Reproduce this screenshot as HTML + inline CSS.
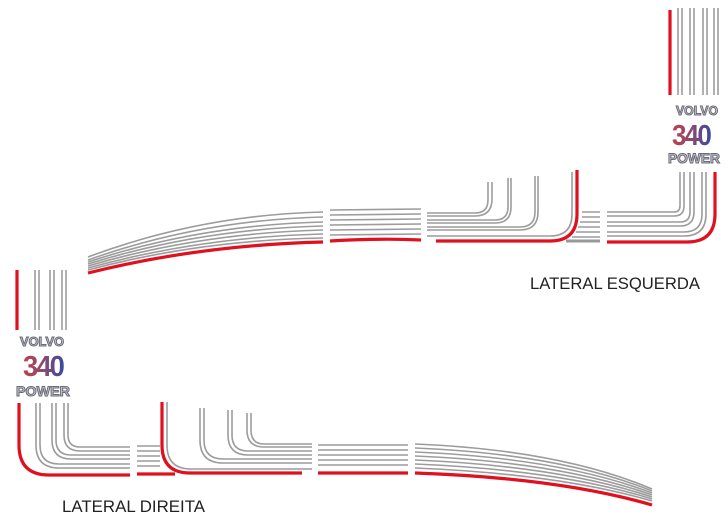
<!DOCTYPE html>
<html><head><meta charset="utf-8"><style>
html,body{margin:0;padding:0;background:#fff;width:728px;height:523px;overflow:hidden}
svg{display:block}
.g{fill:none;stroke:#9c9c9c;stroke-width:1.6}
.r{fill:none;stroke:#e0101e;stroke-width:3.2}
.lg{font-family:"Liberation Sans",sans-serif;font-weight:bold;fill:#c8c8d0;stroke:#6a6a78;stroke-width:1}
.num{font-family:"Liberation Sans",sans-serif;font-weight:bold;letter-spacing:-2px}
.lab{font-family:"Liberation Sans",sans-serif;font-size:16.5px;fill:#222}
</style></head><body>
<svg width="728" height="523" viewBox="0 0 728 523" xmlns="http://www.w3.org/2000/svg">
<defs>
<linearGradient id="n" x1="0" x2="1"><stop offset="0" stop-color="#c0404c"/><stop offset="0.5" stop-color="#8a4a70"/><stop offset="1" stop-color="#3a4aa0"/></linearGradient>
</defs>

<line class="r" x1="670" y1="10" x2="670" y2="95"/>
<g class="g">
<line x1="678" y1="8" x2="678" y2="95"/><line x1="682" y1="8" x2="682" y2="95"/>
<line x1="690" y1="8" x2="690" y2="95"/><line x1="694" y1="8" x2="694" y2="95"/>
<line x1="703" y1="8" x2="703" y2="95"/><line x1="707" y1="8" x2="707" y2="95"/>
<line x1="714" y1="8" x2="714" y2="95"/><line x1="718" y1="8" x2="718" y2="95"/>
</g>
<text class="lg" x="697" y="115" font-size="13" text-anchor="middle" textLength="42" lengthAdjust="spacingAndGlyphs">VOLVO</text>
<text class="num" x="691" y="145" font-size="29" text-anchor="middle" fill="url(#n)" textLength="38" lengthAdjust="spacingAndGlyphs">340</text>
<text class="lg" x="694" y="163" font-size="14" text-anchor="middle" textLength="52" lengthAdjust="spacingAndGlyphs">POWER</text>

<path class="r" d="M607,242 H687 Q715,242 715,214 V172"/>
<g class="g">
<path d="M607,236 H684 Q706,236 706,214 V172"/>
<path d="M607,232 H684 Q702,232 702,214 V172"/>
<path d="M607,226 H680 Q694,226 694,212 V172"/>
<path d="M607,222 H680 Q690,222 690,212 V172"/>
<path d="M607,216 H674 Q684,216 684,206 V172"/>
<path d="M607,212 H674 Q680,212 680,206 V172"/>
</g>

<path class="r" d="M436,241 H550 Q577,241 577,214 V170"/>
<g class="g">
<path d="M427,236 H550 Q572,236 572,214 V172"/>
<path d="M427,230 H520 Q538,230 538,212 V176"/>
<path d="M427,227 H520 Q535,227 535,212 V176"/>
<path d="M427,223 H495 Q511,223 511,207 V178"/>
<path d="M427,220 H495 Q508,220 508,207 V178"/>
<path d="M427,216 H475 Q492,216 492,199 V182"/>
<path d="M427,213 H475 Q488,213 488,200 V182"/>
<line x1="582" y1="212" x2="600" y2="212"/><line x1="582" y1="217" x2="600" y2="217"/>
<line x1="580" y1="222" x2="600" y2="222"/><line x1="578" y1="227" x2="600" y2="227"/>
<line x1="576" y1="232" x2="600" y2="232"/><line x1="572" y1="237" x2="600" y2="237"/>
</g>
<line x1="566" y1="241" x2="600" y2="241" stroke="#999" stroke-width="3"/>

<g class="g">
<line x1="330" y1="210" x2="421" y2="209"/><line x1="330" y1="215" x2="421" y2="214"/>
<line x1="330" y1="220" x2="421" y2="219"/><line x1="330" y1="225" x2="421" y2="224"/>
<line x1="330" y1="230" x2="421" y2="229"/><line x1="330" y1="235" x2="421" y2="234"/>
</g>
<path class="r" d="M330,241 Q380,238 421,240"/>

<g class="g">
<path d="M88,257 Q200,215 323,212"/>
<path d="M88,260 Q200,220 323,217"/>
<path d="M88,262 Q200,225 323,222"/>
<path d="M88,264 Q200,229 323,226"/>
<path d="M88,266 Q200,233 323,230"/>
<path d="M88,268 Q200,237 323,234"/>
<path d="M88,270 Q200,240 323,238"/>
</g>
<path class="r" d="M88,273 Q200,245 323,242"/>

<text class="lab" x="530" y="289" textLength="170" lengthAdjust="spacingAndGlyphs">LATERAL ESQUERDA</text>

<line class="r" x1="17" y1="270" x2="17" y2="330"/>
<g class="g">
<line x1="35" y1="270" x2="35" y2="330"/><line x1="39" y1="270" x2="39" y2="330"/>
<line x1="50" y1="270" x2="50" y2="330"/><line x1="54" y1="270" x2="54" y2="330"/>
<line x1="62" y1="270" x2="62" y2="330"/><line x1="66" y1="270" x2="66" y2="330"/>
</g>
<text class="lg" x="42" y="346" font-size="13" text-anchor="middle" textLength="44" lengthAdjust="spacingAndGlyphs">VOLVO</text>
<text class="num" x="43" y="376" font-size="29" text-anchor="middle" fill="url(#n)" textLength="40" lengthAdjust="spacingAndGlyphs">340</text>
<text class="lg" x="43" y="396" font-size="14" text-anchor="middle" textLength="54" lengthAdjust="spacingAndGlyphs">POWER</text>

<path class="r" d="M19,403 V445 Q19,475 49,475 H130"/>
<g class="g">
<path d="M36,403 V445 Q36,468 59,468 H130"/>
<path d="M40,403 V445 Q40,464 59,464 H130"/>
<path d="M52,403 V440 Q52,459 71,459 H130"/>
<path d="M56,403 V440 Q56,455 71,455 H130"/>
<path d="M64,403 V435 Q64,451 80,451 H130"/>
<path d="M68,403 V435 Q68,447 80,447 H130"/>
</g>
<g class="g">
<line x1="137" y1="446" x2="160" y2="446"/><line x1="137" y1="451" x2="160" y2="451"/>
<line x1="137" y1="456" x2="160" y2="456"/><line x1="137" y1="461" x2="160" y2="461"/>
<line x1="137" y1="466" x2="160" y2="466"/>
</g>
<line class="r" x1="137" y1="474" x2="175" y2="474"/>

<path class="r" d="M162,402 V445 Q162,473 190,473 H302"/>
<g class="g">
<path d="M167,402 V445 Q167,469 191,469 H312"/>
<path d="M200,408 V440 Q200,463 223,463 H312"/>
<path d="M204,408 V440 Q204,459 223,459 H312"/>
<path d="M228,410 V435 Q228,455 248,455 H312"/>
<path d="M232,410 V435 Q232,451 248,451 H312"/>
<path d="M247,413 V430 Q247,447 264,447 H312"/>
<path d="M251,413 V430 Q251,444 264,444 H312"/>
</g>

<g class="g">
<line x1="318" y1="445" x2="408" y2="445"/><line x1="318" y1="450" x2="408" y2="450"/>
<line x1="318" y1="455" x2="408" y2="455"/><line x1="318" y1="460" x2="408" y2="460"/>
<line x1="318" y1="465" x2="408" y2="465"/>
</g>
<line class="r" x1="318" y1="473" x2="408" y2="473"/>

<g class="g">
<path d="M415,444 Q560,450 652,489"/>
<path d="M415,448 Q560,454 652,491"/>
<path d="M415,452 Q560,458 652,493"/>
<path d="M415,456 Q560,462 652,495"/>
<path d="M415,460 Q560,466 652,497"/>
<path d="M415,464 Q560,470 652,499"/>
<path d="M415,468 Q560,474 652,501"/>
</g>
<path class="r" d="M415,473 Q560,478 652,505"/>

<text class="lab" x="62" y="512" textLength="143" lengthAdjust="spacingAndGlyphs">LATERAL DIREITA</text>
</svg>
</body></html>
